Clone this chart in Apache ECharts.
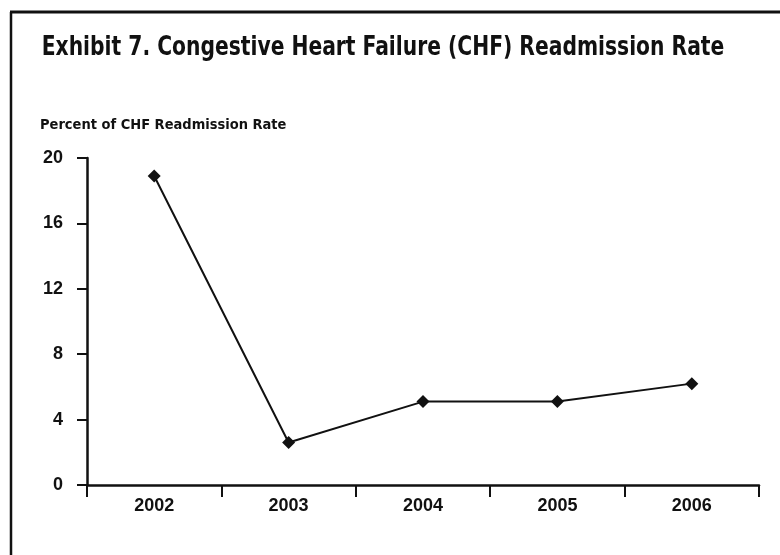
<!DOCTYPE html>
<html>
<head>
<meta charset="utf-8">
<script src="https://cdn.jsdelivr.net/npm/echarts@6/dist/echarts.min.js"></script>
<style>
html,body{margin:0;padding:0;background:#fff;}
#chart{width:780px;height:555px;}
</style>
</head>
<body>
<div id="chart"></div>
<script>
var titleText = 'Exhibit 7. Congestive Heart Failure (CHF) Readmission Rate';
var yAxisTitle = 'Percent of CHF Readmission Rate';
var years = ['2002', '2003', '2004', '2005', '2006'];
var readmissionRate = [18.9, 2.6, 5.1, 5.1, 6.2];
var yTicks = [0, 4, 8, 12, 16, 20];

var narrow = "'DejaVu Sans Condensed', 'Liberation Sans Narrow', sans-serif";
var chart = echarts.init(document.getElementById('chart'));
chart.setOption({
  backgroundColor: '#fff',
  animation: false,
  title: [
    {
      text: yAxisTitle, left: 35, top: 113,
      textStyle: {fontFamily: narrow, fontSize: 14.5, fontWeight: 'bold', color: '#111'}
    }
  ],
  graphic: [
    {type: 'line', shape: {x1: 10, y1: 12, x2: 780, y2: 12}, style: {stroke: '#111', lineWidth: 3}},
    {type: 'line', shape: {x1: 11, y1: 12, x2: 11, y2: 555}, style: {stroke: '#111', lineWidth: 2.5}},
    {
      type: 'text', x: 383, y: 47.5, scaleX: 0.835,
      style: {
        text: titleText, fill: '#111',
        font: "bold 27px 'DejaVu Sans Condensed', 'Liberation Sans Narrow', sans-serif",
        textAlign: 'center', textVerticalAlign: 'middle'
      }
    }
  ],
  grid: {left: 87, right: 21, top: 158, bottom: 70, containLabel: false},
  xAxis: {
    type: 'category',
    data: years,
    boundaryGap: true,
    axisLine: {lineStyle: {color: '#111', width: 2.5}},
    axisTick: {show: true, inside: false, length: 12, lineStyle: {color: '#111', width: 2}},
    axisLabel: {margin: 12, color: '#111', fontFamily: 'Liberation Sans', fontWeight: 'bold', fontSize: 18},
    splitLine: {show: false}
  },
  yAxis: {
    type: 'value',
    min: yTicks[0], max: yTicks[yTicks.length - 1], interval: 4,
    axisLine: {show: true, lineStyle: {color: '#111', width: 2.5}},
    axisTick: {show: true, inside: false, length: 10, lineStyle: {color: '#111', width: 2}},
    axisLabel: {margin: 24, color: '#111', fontFamily: 'Liberation Sans', fontWeight: 'bold', fontSize: 18},
    splitLine: {show: false}
  },
  series: [{
    type: 'line',
    data: readmissionRate,
    symbol: 'diamond',
    symbolSize: 13,
    lineStyle: {color: '#111', width: 2},
    itemStyle: {color: '#111'},
    label: {show: false}
  }]
});
</script>
</body>
</html>
